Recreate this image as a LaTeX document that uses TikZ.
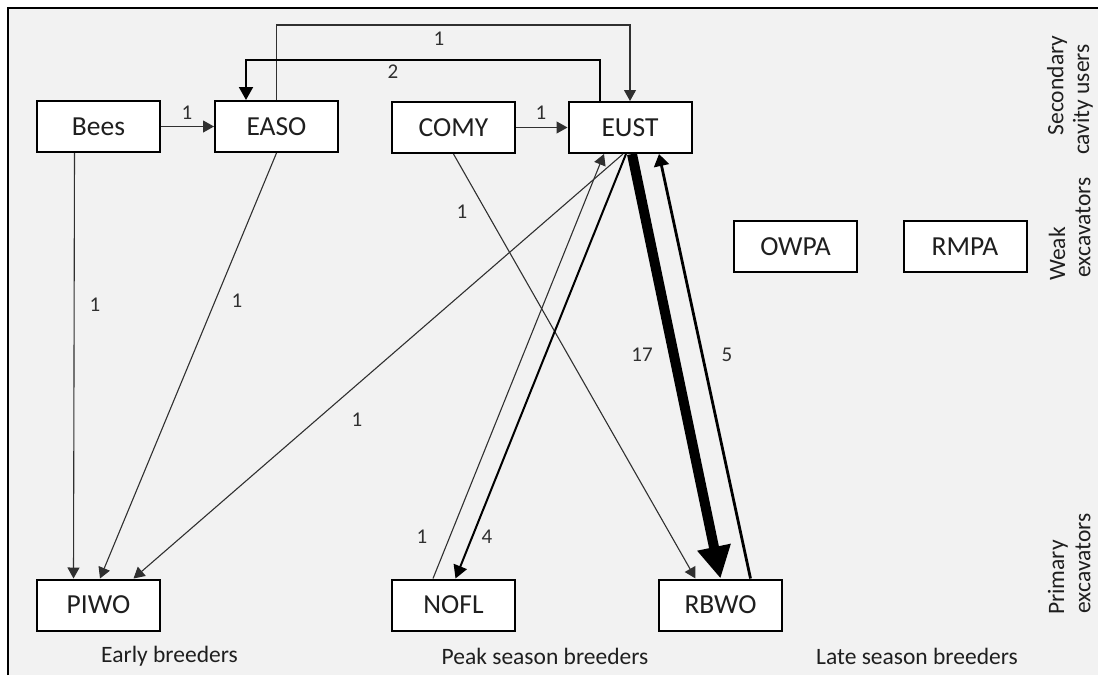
\documentclass[tikz,border=0pt]{standalone}
\usepackage{fontspec}
\setmainfont{Carlito}
\usetikzlibrary{arrows.meta}
\definecolor{bg}{HTML}{F2F2F2}
\definecolor{ink}{HTML}{1F1F1F}
\definecolor{edge}{HTML}{303030}
\tikzset{
  box/.style={draw=black, line width=2pt, fill=white, minimum width=123pt, minimum height=51pt, inner sep=0pt, text=ink, font=\fontsize{27.5}{32}\selectfont},
  lbl/.style={text=ink, font=\fontsize{23.5}{28}\selectfont, inner sep=0pt},
  num/.style={text=edge, font=\fontsize{21}{24}\selectfont, inner sep=0pt},
  thin/.style={draw=edge, line width=1.1pt, -{Triangle[length=11pt,width=12pt]}},
  mid/.style={draw=black, line width=2pt, -{Triangle[length=13pt,width=14pt]}},
  midb/.style={draw=black, line width=2.8pt, -{Triangle[length=12pt,width=15pt]}},
  heavy/.style={draw=black, line width=10pt, -{Triangle[length=32pt,width=32pt]}}
}
\begin{document}
\begin{tikzpicture}[x=1pt,y=-1pt]
\useasboundingbox (0,0) rectangle (1098,675);
\fill[bg] (8,8) rectangle (1098,675);
\draw[black, line width=2.5pt] (8,675) -- (8,8) -- (1098,8);

% nodes
\node[box] (Bees) at (98.5,126.5) {Bees};
\node[box] (EASO) at (276.5,126.5) {EASO};
\node[box] (COMY) at (453.5,127.5) {COMY};
\node[box] (EUST) at (630,127.5) {EUST};
\node[box] (OWPA) at (795.5,246.5) {OWPA};
\node[box] (RMPA) at (965,246.5) {RMPA};
\node[box] (PIWO) at (98.5,605) {PIWO};
\node[box] (NOFL) at (453.5,605) {NOFL};
\node[box] (RBWO) at (720.5,605) {RBWO};

% side and bottom labels
\node[lbl, rotate=90] (sec1) at (1057,85.5) {Secondary};
\node[lbl, rotate=90] (sec2) at (1083,99.5) {cavity users};
\node[lbl, rotate=90] (weak1) at (1057,254) {Weak};
\node[lbl, rotate=90] (weak2) at (1083,227.5) {excavators};
\node[lbl, rotate=90] (prim1) at (1058,577.5) {Primary};
\node[lbl, rotate=90] (prim2) at (1083,563.5) {excavators};
\node[lbl] (early) at (169.5,656) {Early breeders};
\node[lbl] (peak) at (545,656) {Peak season breeders};
\node[lbl] (late) at (917,656) {Late season breeders};

% helper coordinates
\coordinate (top1) at (0,25);
\coordinate (top2) at (0,60);

% edges
\draw[thin] (Bees) -- (EASO);
\draw[thin] (COMY) -- (EUST);
\draw[thin] (EASO.north) -- (EASO.north |- top1) -- (EUST.north |- top1) -- (EUST.north);
\draw[mid] ([xshift=-30pt]EUST.north) -- ([xshift=-30pt]EUST.north |- top2) -- ([xshift=-30.5pt]EASO.north |- top2) -- ([xshift=-30.5pt]EASO.north);
\draw[thin] ([xshift=-24pt]Bees.south) -- ([xshift=-25pt]PIWO.north);
\draw[thin] (EASO.south) -- ([xshift=1.5pt]PIWO.north);
\draw[thin] ([xshift=-7pt]EUST.south) -- ([xshift=35pt]PIWO.north);
\draw[thin] (COMY.south) -- ([xshift=-25pt]RBWO.north);
\draw[thin] ([xshift=-20.5pt]NOFL.north) -- ([xshift=-26pt]EUST.south);
\draw[mid] ([xshift=-4pt]EUST.south) -- ([xshift=2pt]NOFL.north);
\draw[heavy] ([xshift=2pt]EUST.south) -- (RBWO.north);
\draw[midb] ([xshift=30pt]RBWO.north) -- ([xshift=29pt]EUST.south);

% edge labels
\node[num] (l1) at (187,113) {1};
\node[num] (l2) at (439,39) {1};
\node[num] (l3) at (393,72) {2};
\node[num] (l4) at (541,113) {1};
\node[num] (l5) at (95,305) {1};
\node[num] (l6) at (237,301) {1};
\node[num] (l7) at (357,420) {1};
\node[num] (l8) at (462,212) {1};
\node[num] (l9) at (422,537) {1};
\node[num] (l10) at (487,537) {4};
\node[num] (l11) at (642,355) {17};
\node[num] (l12) at (727,355) {5};
\end{tikzpicture}
\end{document}
